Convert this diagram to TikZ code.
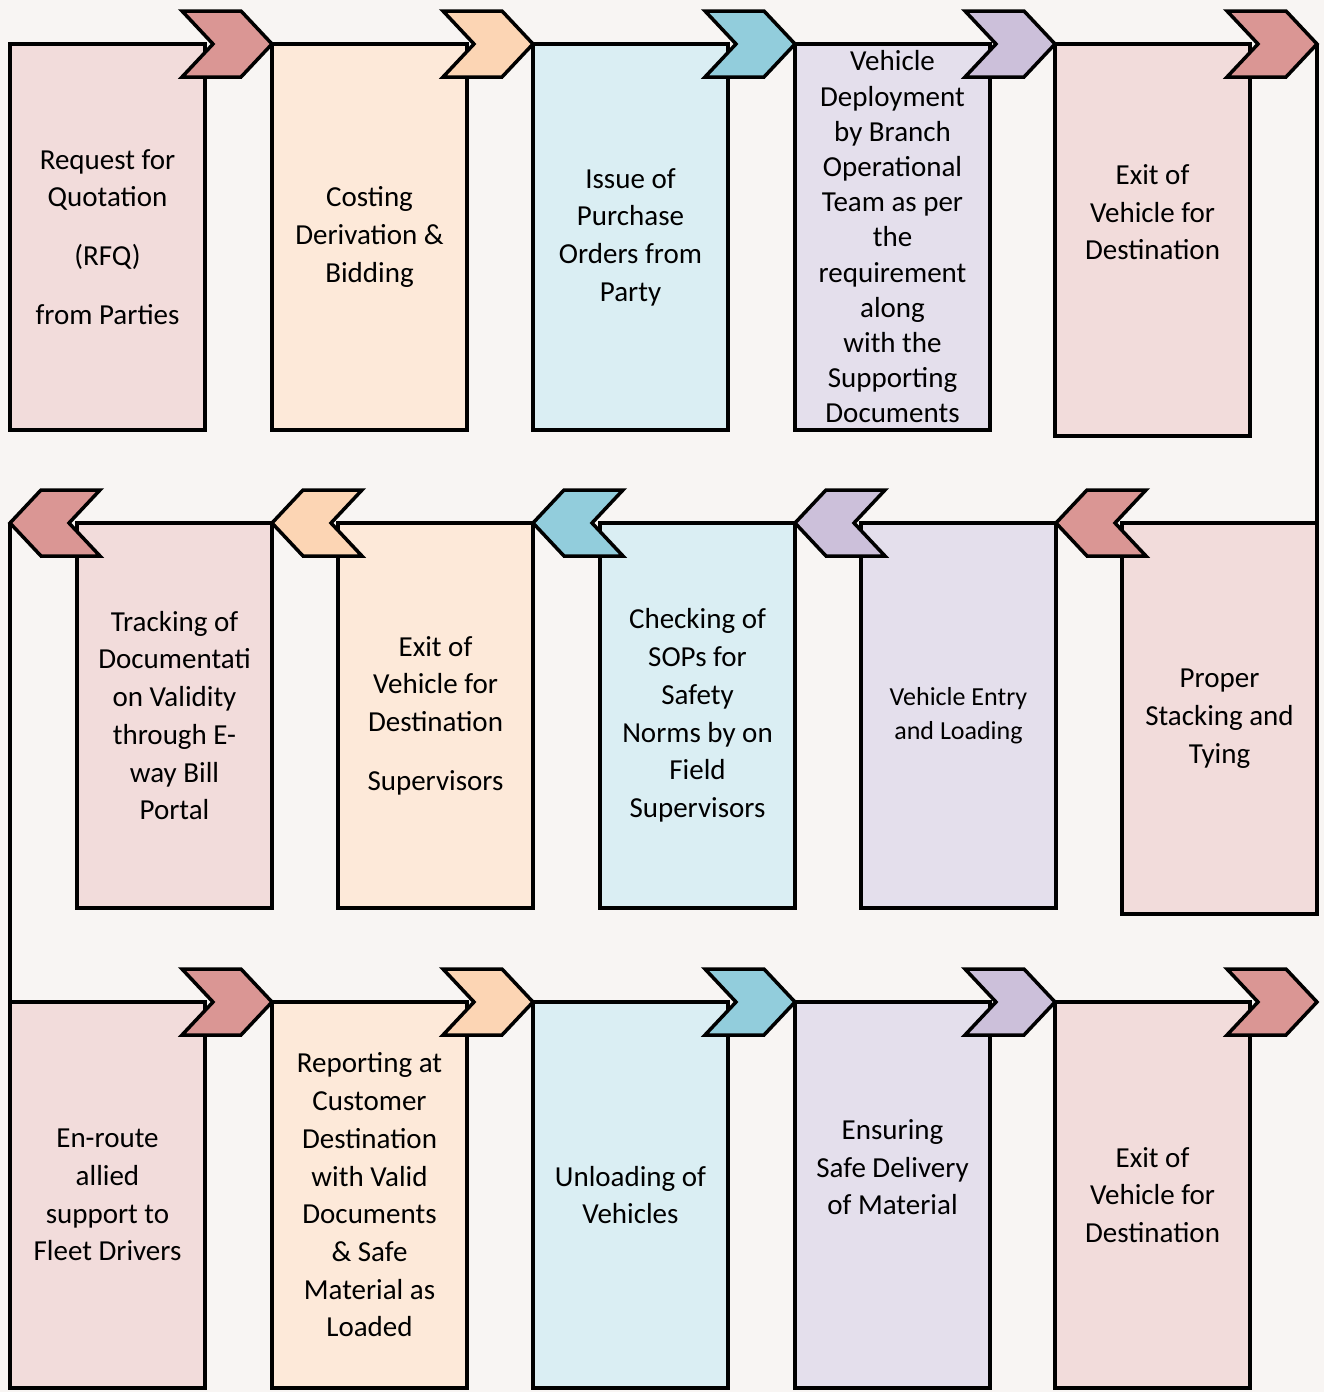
\documentclass[tikz,border=0pt]{standalone}
\usepackage{fontspec}
\setmainfont{Carlito}
\usetikzlibrary{calc}

\definecolor{bgc}{HTML}{F8F5F3}
\definecolor{pinkD}{HTML}{DA9694}
\definecolor{pinkL}{HTML}{F2DCDB}
\definecolor{peachD}{HTML}{FCD5B4}
\definecolor{peachL}{HTML}{FDE9D9}
\definecolor{blueD}{HTML}{92CDDC}
\definecolor{blueL}{HTML}{DAEEF3}
\definecolor{lavD}{HTML}{CCC0DA}
\definecolor{lavL}{HTML}{E4DFEC}

% chevron with its tip at #1, pointing right / left
\newcommand{\chevR}[2]{\draw[chev, fill=#2] ($(#1)+(-90,-33)$) -- ++(59,0) -- (#1) -- ++(-31,33) -- ++(-59,0) -- ++(31,-33) -- cycle;}
\newcommand{\chevL}[2]{\draw[chev, fill=#2] ($(#1)+(90,-33)$) -- ++(-59,0) -- (#1) -- ++(31,33) -- ++(59,0) -- ++(-31,-33) -- cycle;}

\begin{document}
\begin{tikzpicture}
[x=1pt,y=-1pt,
block/.style ={rectangle, draw=black, line width=3.5pt, anchor=north west,
outer sep=0pt, inner sep=0pt, align=center, minimum width=195pt,
minimum height=386pt, font=\fontsize{29}{37.7}\selectfont},
chev/.style ={draw=black, line width=3.5pt, line join=miter},
line/.style ={draw=black, line width=3.5pt}]
\useasboundingbox (0,0) rectangle (1324,1392);
\fill[bgc] (0,0) rectangle (1324,1392);
% row 1
\node [block, fill=pinkL] (rfq) at (10,44) {Request for\\Quotation\\[21pt](RFQ)\\[21pt]from Parties};
\node [block, fill=peachL] (cost) at (272,44) {Costing\\Derivation \&\\Bidding};
\node [block, fill=blueL] (po) at (533,44) {Issue of\\Purchase\\Orders from\\Party};
\node [block, fill=lavL, font=\fontsize{29}{35.2}\selectfont] (deploy) at (795,44) {Vehicle\\Deployment\\by Branch\\Operational\\Team as per\\the\\requirement\\along\\with the\\Supporting\\Documents};
\node [block, fill=pinkL, minimum height=392pt] (exitA) at (1055,44) {Exit of\\Vehicle for\\Destination\\[18pt]\mbox{}};
% row 2
\node [block, fill=pinkL, minimum height=391pt] (stack) at (1122,523) {Proper\\Stacking and\\Tying};
\node [block, fill=lavL, minimum height=385pt, font=\fontsize{26}{34}\selectfont] (entry) at (861,523) {Vehicle Entry\\and Loading};
\node [block, fill=blueL, minimum height=385pt] (sop) at (600,523) {Checking of\\SOPs for\\Safety\\Norms by on\\Field\\Supervisors};
\node [block, fill=peachL, minimum height=385pt] (exitB) at (338,523) {Exit of\\Vehicle for\\Destination\\[21pt]Supervisors};
\node [block, fill=pinkL, minimum height=385pt] (track) at (77,523) {Tracking of\\Documentati\\on Validity\\through E-\\way Bill\\Portal};
% row 3
\node [block, fill=pinkL] (route) at (10,1002) {En-route\\allied\\support to\\Fleet Drivers};
\node [block, fill=peachL] (report) at (272,1002) {Reporting at\\Customer\\Destination\\with Valid\\Documents\\\& Safe\\Material as\\Loaded};
\node [block, fill=blueL] (unload) at (533,1002) {Unloading of\\Vehicles};
\node [block, fill=lavL] (deliver) at (795,1002) {Ensuring\\Safe Delivery\\of Material\\[18pt]\mbox{}};
\node [block, fill=pinkL] (exitC) at (1055,1002) {Exit of\\Vehicle for\\Destination};
% turning points
\coordinate (turnR) at (stack.north east |- exitA.north east);
\coordinate (turnL) at (route.north west |- track.north west);
\coordinate (finish) at (turnR |- exitC.north east);
\path [line] (turnR) -- (stack.north east);
\path [line] (turnL) -- (route.north west);
% chevrons
\chevR{cost.north west}{pinkD}
\chevR{po.north west}{peachD}
\chevR{deploy.north west}{blueD}
\chevR{exitA.north west}{lavD}
\chevR{turnR}{pinkD}
\chevL{entry.north east}{pinkD}
\chevL{sop.north east}{lavD}
\chevL{exitB.north east}{blueD}
\chevL{track.north east}{peachD}
\chevL{turnL}{pinkD}
\chevR{report.north west}{pinkD}
\chevR{unload.north west}{peachD}
\chevR{deliver.north west}{blueD}
\chevR{exitC.north west}{lavD}
\chevR{finish}{pinkD}
\end{tikzpicture}
\end{document}
